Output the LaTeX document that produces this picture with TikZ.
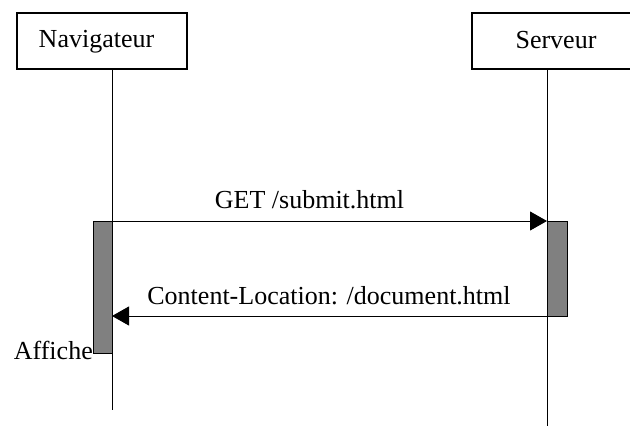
\documentclass[tikz,border=0pt]{standalone}
\usepackage{fontspec}
\setmainfont{Liberation Serif}
\usetikzlibrary{arrows.meta}
\begin{document}
\begin{tikzpicture}[x=1pt,y=-1pt,
  lbl/.style={inner sep=0pt,font=\fontsize{26}{30}\selectfont},
  actor/.style={draw,line width=1.3pt,fill=white},
  life/.style={line width=1pt},
  act/.style={draw,line width=1pt,fill=gray!100!white,fill=black!50},
  msg/.style={line width=1pt,-{Triangle[length=17pt,width=19pt]}}]
\useasboundingbox (0,0) rectangle (630,426);
\clip (0,0) rectangle (630,426);
% actors
\draw[actor] (17,13) rectangle (187,69);
\draw[actor] (472,13) rectangle (640,69);
\node[lbl,anchor=base] (nav) at (96.5,47) {Navigateur};
\node[lbl,anchor=base] (srv) at (556,48) {Serveur};
% lifelines
\coordinate (navtop) at (112,69);
\coordinate (navbot) at (112,410);
\coordinate (srvtop) at (547,69);
\coordinate (srvbot) at (547,426);
\draw[life] (navtop) -- (navbot);
\draw[life] (srvtop) -- (srvbot);
% activations
\draw[act] (93,221) rectangle (112,353);
\draw[act] (547,221) rectangle (567,316);
\draw[life] (112,221) -- (112,353);
% messages
\coordinate (m1s) at (112,221);
\coordinate (m1e) at (547,221);
\coordinate (m2s) at (567,316);
\coordinate (m2e) at (112,316);
\draw[msg] (m1s) -- (m1e);
\draw[msg] (m2s) -- (m2e);
\node[lbl,anchor=base] (get) at (309.5,208) {GET /submit.html};
\node[lbl,anchor=base] (cl) at (329,304) {Content-Location: /document.html};
\node[lbl,anchor=base east] (aff) at (93,359) {Affiche};
\end{tikzpicture}
\end{document}
